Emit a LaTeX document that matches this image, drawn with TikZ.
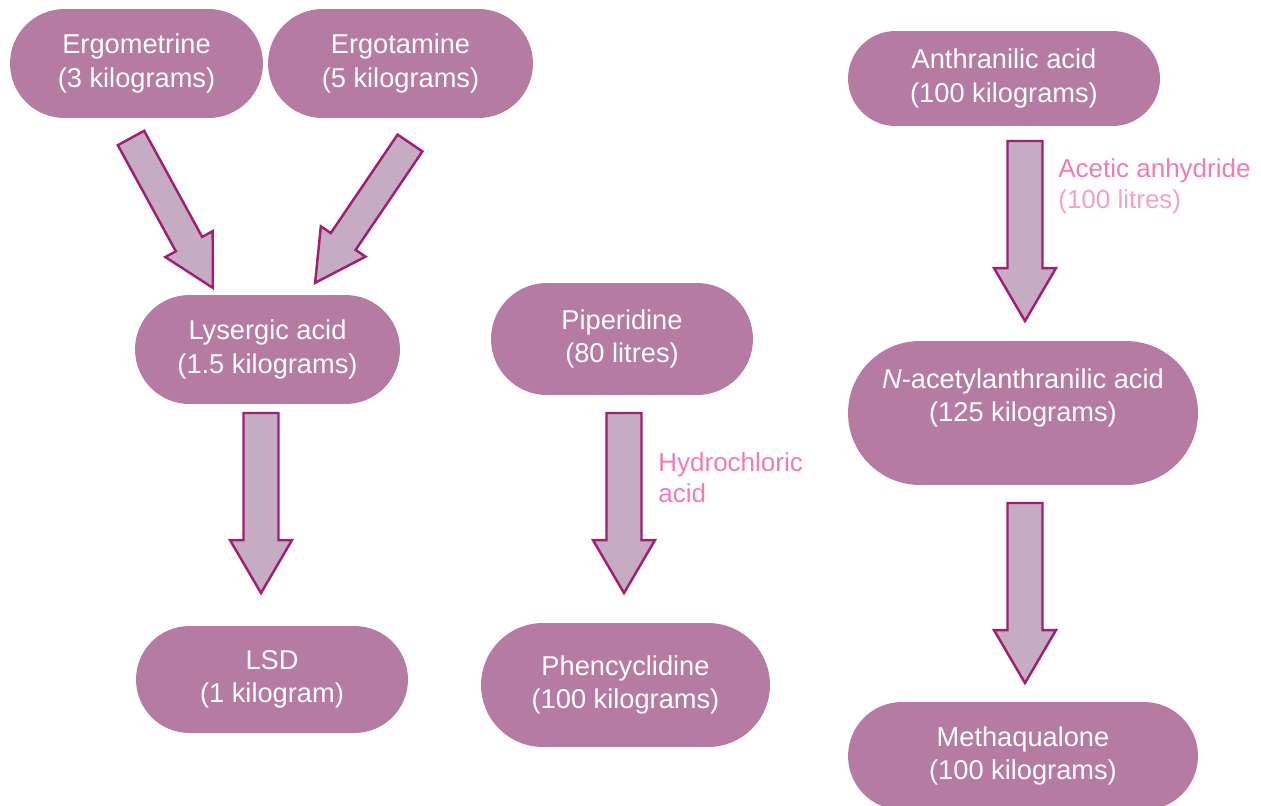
\documentclass[tikz,border=0pt]{standalone}
\usepackage{fontspec}
\setmainfont{Liberation Sans}
\usetikzlibrary{shapes.misc}
\usetikzlibrary{calc}

\definecolor{pillfill}{RGB}{182,123,163}
\definecolor{arrowfill}{RGB}{198,172,194}
\definecolor{arrowedge}{RGB}{158,31,115}
\definecolor{reagentpink}{RGB}{242,123,182}
\definecolor{reagentlight}{RGB}{245,160,201}

% block arrow from #1 to #2: shaft half width #3, head half width #4, head length #5
\newcommand{\fatarrow}[5]{%
  \path let \p1=(#1), \p2=(#2) in \pgfextra{%
    \pgfmathsetmacro\arrang{atan2(\y2-\y1,\x2-\x1)}%
    \pgfmathsetmacro\arrlen{veclen(\x2-\x1,\y2-\y1)/0.569055}%
    \xdef\arrang{\arrang}\xdef\arrlen{\arrlen}};
  \draw[block arrow, shift={(#1)}, rotate=\arrang]
    (0,-#3) -- ({\arrlen-#5},-#3) -- ({\arrlen-#5},-#4) -- (\arrlen,0)
    -- ({\arrlen-#5},#4) -- ({\arrlen-#5},#3) -- (0,#3) -- cycle;
}

\begin{document}
\begin{tikzpicture}[x=0.02cm, y=0.02cm,
    pill/.style = {rounded rectangle, fill=pillfill, draw=none, inner sep=0pt,
        text=white, align=center, font=\fontsize{15.5}{19}\selectfont},
    pilltext/.style = {text=white, align=center, inner sep=0pt,
        font=\fontsize{15.5}{19}\selectfont},
    block arrow/.style = {fill=arrowfill, draw=arrowedge, line width=1.4pt, line join=miter},
    reagent/.style = {text=reagentpink, align=left, inner sep=0pt, anchor=west,
        font=\fontsize{14.8}{17.5}\selectfont}]
    \useasboundingbox (0,0) rectangle (1261,-805);

    % starting materials
    \node [pill, minimum width=5.06cm, minimum height=2.18cm] (ergo) at (136.5,-63.5) {Ergometrine\\(3 kilograms)};
    \node [pill, minimum width=5.30cm, minimum height=2.18cm] (ergot) at (400.5,-63.5) {Ergotamine\\(5 kilograms)};
    \node [pill, minimum width=6.24cm, minimum height=1.90cm] (anthr) at (1004,-78.5) {Anthranilic acid\\(100 kilograms)};
    \node [pill, minimum width=5.24cm, minimum height=2.24cm] (piper) at (622,-339) {Piperidine\\(80 litres)};

    % intermediates
    \node [pill, minimum width=5.30cm, minimum height=2.18cm] (lyserg) at (267.5,-349.5) {Lysergic acid\\(1.5 kilograms)};
    \node [pill, minimum width=7.00cm, minimum height=2.88cm,
        label={[pilltext, yshift=0.3cm]center:{\textit{N}-acetylanthranilic acid\\(125 kilograms)}}] (nacet) at (1023,-413) {};

    % products
    \node [pill, minimum width=5.44cm, minimum height=2.14cm] (lsd) at (272,-679.5) {LSD\\(1 kilogram)};
    \node [pill, minimum width=5.78cm, minimum height=2.48cm] (phen) at (625.5,-685) {Phencyclidine\\(100 kilograms)};
    \node [pill, minimum width=7.00cm, minimum height=2.16cm] (metha) at (1023,-756) {Methaqualone\\(100 kilograms)};

    % arrow ends
    \coordinate (ergo-tail) at (131,-138);   \coordinate (ergo-tip) at (213,-288);
    \coordinate (ergot-tail) at (410,-143);  \coordinate (ergot-tip) at (315,-283);
    \coordinate (lyserg-tail) at (261,-413); \coordinate (lyserg-tip) at (261,-593);
    \coordinate (piper-tail) at (624,-413);  \coordinate (piper-tip) at (624,-593);
    \coordinate (anthr-tail) at (1025,-141); \coordinate (anthr-tip) at (1025,-321);
    \coordinate (nacet-tail) at (1025,-503); \coordinate (nacet-tip) at (1025,-683);

    \fatarrow{ergo-tail}{ergo-tip}{15}{27}{50}
    \fatarrow{ergot-tail}{ergot-tip}{15}{27}{50}
    \fatarrow{lyserg-tail}{lyserg-tip}{17.5}{31}{53}
    \fatarrow{piper-tail}{piper-tip}{17.5}{31}{53}
    \fatarrow{anthr-tail}{anthr-tip}{17.5}{31}{53}
    \fatarrow{nacet-tail}{nacet-tip}{17.5}{31}{53}

    % reagents
    \node [reagent] (hcl) at (658,-478) {Hydrochloric\\acid};
    \node [reagent] (acet) at (1058,-186) {Acetic anhydride\\\textcolor{reagentlight}{(100 litres)}};
\end{tikzpicture}
\end{document}
